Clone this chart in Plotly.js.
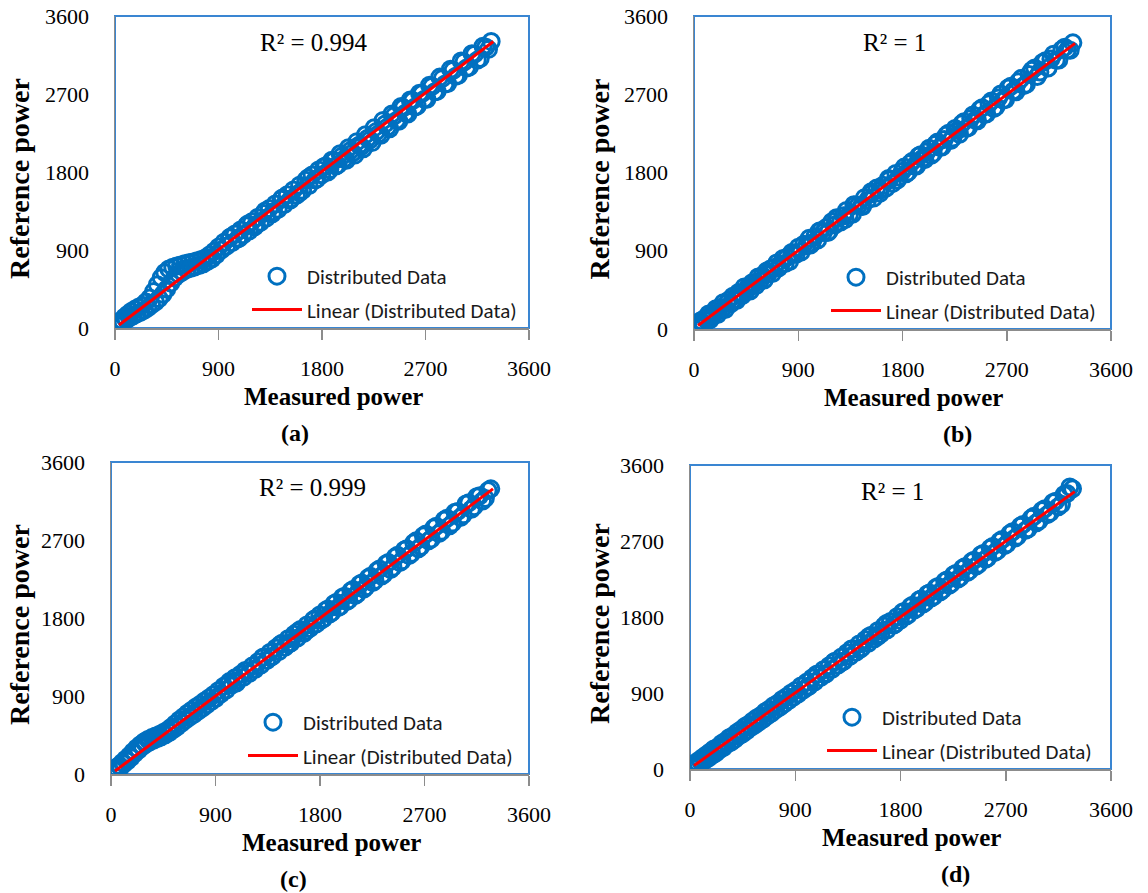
<!DOCTYPE html>
<html>
<head>
<meta charset="utf-8">
<script src="https://cdn.plot.ly/plotly-3.0.1.min.js"></script>
<style>html,body{margin:0;padding:0;background:#fff;}#chart{width:1148px;height:893px;}</style>
</head>
<body>
<div id="chart"></div>
<script>
// ---------- data ----------
const measured = [34,46,57,71,84,97,112,126,141,158,172,189,204,221,238,253,270,286,301,318,335,352,368,384,401,417,433,450,468,485,502,519,536,553,570,588,606,624,641,659,677,695,714,732,751,769,788,806,825,844,863,882,901,
924,948,971,995,1019,1043,1068,1092,1116,1141,1166,1190,1215,1240,1266,1291,1316,1342,1368,1393,1419,1446,1472,1498,1525,1551,1578,1605,1632,1659,1687,1714,1742,1770,1798,
1832,1868,1903,1939,1975,2012,2048,2085,2122,2160,2197,2235,2273,2312,2350,2389,2428,2468,2507,2547,2588,2628,2669,
2712,2758,2801,2847,2893,2941,2986,3034,3081,3127,3176,3224,3271];
const measuredExtra = [1005,1080,1155,1230,1305,1380,1455,1530,1605,1680,1755,
1815,1850,1886,1921,1957,1993,2030,2066,2103,2141,2178,2216,2254,2292,2331,2370,2408,2448,2488,2527,2567,2608,2648,2690,
2735,2780,2824,2870,2917,2963,3010,3057,3104,3150,3200,3248];

const referenceA = [45,25,90,62,128,95,160,118,190,140,215,165,240,180,262,205,300,232,345,268,420,300,500,340,580,390,640,450,680,520,700,580,715,620,728,650,740,675,752,690,762,705,775,720,790,740,812,770,845,800,885,845,935,
900,990,945,1040,985,1085,1030,1130,1075,1180,1120,1225,1168,1275,1220,1322,1268,1378,1318,1430,1370,1485,1425,1538,1478,1592,1532,1648,1588,1705,1645,1765,1710,1822,1768,
1870,1828,1930,1882,1985,1935,2048,1995,2110,2068,2190,2140,2268,2225,2355,2300,2450,2385,2540,2470,2625,2560,2705,
2640,2790,2730,2880,2820,2975,2915,3070,3010,3160,3110,3240,3305];
const referenceAExtra = [1050,1035,1200,1190,1350,1340,1500,1490,1560,1735,1720,
1860,1800,1935,1870,2010,1950,2080,2020,2150,2095,2230,2170,2310,2240,2395,2320,2470,2395,2555,2480,2630,2550,2710,2640,
2800,2725,2895,2815,2985,2905,3080,3000,3165,3090,3250,3215];

const referenceB = [46,21,95,76,42,127,97,173,108,178,164,233,167,247,218,303,225,301,334,290,376,340,328,420,409,386,482,428,486,438,531,522,500,598,552,612,563,663,635,690,639,709,760,705,741,811,754,828,776,879,870,858,941,
885,976,957,1043,989,1060,1024,1129,1111,1166,1125,1233,1196,1272,1231,1302,1362,1316,1320,1427,1421,1414,1511,1482,1552,1506,1622,1596,1653,1622,1717,1672,1789,1749,1813,
1786,1906,1875,1991,1963,2038,1998,2126,2089,2179,2252,2197,2282,2360,2306,2420,2403,2526,2467,2592,2536,2656,2634,
2772,2738,2843,2799,2928,3003,2956,3084,3106,3092,3216,3209,3291];
const referenceBExtra = [965,1125,1110,1280,1260,1430,1408,1578,1560,1730,1712,
1862,1805,1930,1875,2005,1948,2078,2020,2152,2092,2230,2168,2305,2240,2385,2318,2462,2395,2545,2475,2622,2555,2702,2640,
2792,2728,2880,2815,2975,2905,3065,3002,3160,3095,3240,3205];

const referenceC = [40,72,45,98,80,132,118,170,150,212,190,258,236,300,276,338,318,372,345,398,372,420,392,438,410,455,430,480,452,505,478,540,512,580,546,622,585,660,622,700,656,735,690,772,728,806,760,842,800,878,835,915,872,
962,925,1012,972,1066,1030,1110,1078,1150,1115,1190,1160,1245,1205,1295,1258,1350,1310,1402,1360,1455,1412,1508,1462,1560,1515,1612,1570,1668,1622,1720,1680,1778,1732,1835,
1795,1905,1866,1980,1935,2052,2008,2130,2080,2205,2160,2282,2232,2365,2305,2440,2385,2525,2460,2600,2545,2690,2625,
2770,2712,2860,2800,2950,2895,3030,2990,3130,3085,3210,3180,3290];
const referenceCExtra = [1040,1050,1195,1210,1345,1350,1492,1500,1640,1650,1790,
1780,1890,1850,1965,1920,2040,1990,2112,2060,2190,2135,2265,2210,2345,2285,2425,2360,2505,2440,2585,2520,2668,2600,2750,
2690,2840,2775,2930,2865,3020,2960,3115,3055,3200,3150,3270];

const referenceD = [52,30,84,58,110,79,139,104,170,131,201,163,236,190,262,229,301,255,329,296,370,318,395,352,433,390,461,418,502,452,530,491,569,520,604,556,635,590,676,628,708,661,748,700,780,735,822,771,855,810,897,850,930,
889,983,938,1026,984,1078,1033,1124,1082,1175,1130,1223,1181,1275,1231,1322,1280,1377,1334,1425,1383,1480,1437,1530,1490,1585,1542,1637,1597,1694,1650,1747,1706,1804,1761,
1866,1830,1940,1901,2012,1973,2084,2046,2160,2121,2238,2196,2315,2270,2394,2346,2471,2424,2553,2502,2636,2583,2718,
2667,2810,2755,2896,2846,2992,2940,3082,3038,3170,3135,3262,3318];
const referenceDExtra = [970,1118,1120,1268,1270,1420,1418,1570,1568,1722,1718,
1855,1812,1925,1885,2000,1955,2072,2028,2148,2100,2222,2176,2300,2250,2378,2326,2456,2404,2538,2485,2615,2565,2698,2645,
2785,2735,2875,2826,2968,2915,3062,3012,3155,3105,3250,3340];

// linear trend-line end points (Linear (Distributed Data))
const trendMeasured = [35, 3290];
const trendA = [35, 3305];
const trendB = [40, 3285];
const trendC = [35, 3290];
const trendD = [40, 3285];

const r2Labels = ['R² = 0.994', 'R² = 1', 'R² = 0.999', 'R² = 1'];
const panelLabels = ['(a)', '(b)', '(c)', '(d)'];
const tickValues = [0, 900, 1800, 2700, 3600];
const tickLabels = ['0', '900', '1800', '2700', '3600'];
const xTitle = 'Measured power';
const yTitle = 'Reference power';
const scatterName = 'Distributed Data';
const lineName = 'Linear (Distributed Data)';

// ---------- layout helpers ----------
const W = 1148, H = 893;
const px = v => v / W;
const py = v => 1 - v / H;

// plot-area boxes in pixels: [left, right, top, bottom]
const boxes = [
  [115, 529, 16, 328],
  [694, 1111, 16, 329],
  [111, 529, 462, 774],
  [690, 1111, 465, 769]
];
const yTitleX = [19, 599, 19, 599];
const allMeasured = measured.concat(measuredExtra);
const refs = [
  referenceA.concat(referenceAExtra),
  referenceB.concat(referenceBExtra),
  referenceC.concat(referenceCExtra),
  referenceD.concat(referenceDExtra)
];
const trends = [trendA, trendB, trendC, trendD];

const serif = 'Liberation Serif, Times New Roman, serif';
const sans = 'Carlito, Calibri, Lato, sans-serif';
const blue = '#0070c0';

const data = [];
const layout = {
  width: W, height: H,
  margin: {l: 0, r: 0, t: 0, b: 0},
  paper_bgcolor: '#fff', plot_bgcolor: '#fff',
  showlegend: true,
  annotations: [], shapes: []
};

boxes.forEach((b, i) => {
  const n = i === 0 ? '' : String(i + 1);
  const xa = 'x' + n, ya = 'y' + n;
  const lg = i === 0 ? 'legend' : 'legend' + (i + 1);
  data.push({
    type: 'scatter', mode: 'markers', x: allMeasured, y: refs[i],
    xaxis: xa, yaxis: ya, name: scatterName, legend: lg, legendgroup: 'g1' + i,
    marker: {symbol: 'circle-open', size: 16, color: blue, line: {width: 3, color: blue}},
    hoverinfo: 'skip'
  });
  data.push({
    type: 'scatter', mode: 'lines', x: trendMeasured, y: trends[i],
    xaxis: xa, yaxis: ya, name: lineName, legend: lg, legendgroup: 'g2' + i,
    line: {color: '#ff0000', width: 3}, hoverinfo: 'skip'
  });
  layout['xaxis' + n] = {
    domain: [px(b[0]), px(b[1])], range: [0, 3600], anchor: ya,
    tickvals: tickValues, ticktext: tickLabels,
    ticks: 'outside', ticklen: 10, tickwidth: 1.5, tickcolor: '#8c8c8c',
    showline: true, linecolor: '#8c8c8c', linewidth: 1.5,
    showgrid: false, zeroline: false, ticklabelstandoff: 10,
    tickfont: {family: serif, size: 22, color: '#000'}
  };
  layout['yaxis' + n] = {
    domain: [py(b[3]), py(b[2])], range: [0, 3600], anchor: xa,
    tickvals: tickValues, ticktext: tickLabels, ticks: '',
    showline: true, linecolor: '#8c8c8c', linewidth: 1.5,
    showgrid: false, zeroline: false, ticklabelstandoff: 20,
    tickfont: {family: serif, size: 22, color: '#000'}
  };
  layout.shapes.push({
    type: 'rect', xref: xa + ' domain', yref: ya + ' domain',
    x0: 0, x1: 1, y0: 0, y1: 1, layer: 'below',
    line: {color: '#3a86d2', width: 2}
  });
  const cx = (b[0] + b[1]) / 2;
  layout.annotations.push({
    xref: 'paper', yref: 'paper', x: px(cx - 8), y: py(b[2] + 26),
    text: r2Labels[i], showarrow: false, xanchor: 'center', yanchor: 'middle',
    font: {family: serif, size: 25, color: '#000'}
  });
  layout.annotations.push({
    xref: 'paper', yref: 'paper', x: px(cx + 11), y: py(b[3] + 68),
    text: '<b>' + xTitle + '</b>', showarrow: false, xanchor: 'center', yanchor: 'middle',
    font: {family: serif, size: 25, color: '#000'}
  });
  layout.annotations.push({
    xref: 'paper', yref: 'paper', x: px(yTitleX[i]), y: py((b[2] + b[3]) / 2 + 7),
    text: '<b>' + yTitle + '</b>', showarrow: false, textangle: -90, xanchor: 'center', yanchor: 'middle',
    font: {family: serif, size: 28, color: '#000'}
  });
  layout.annotations.push({
    xref: 'paper', yref: 'paper', x: px(i % 2 === 0 ? cx - 27 : cx + 55), y: py(b[3] + 105),
    text: '<b>' + panelLabels[i] + '</b>', showarrow: false, xanchor: 'center', yanchor: 'middle',
    font: {family: serif, size: 24, color: '#000'}
  });
  layout[lg] = {
    x: px(b[0] + 132), y: py(b[3] - 72), xref: 'paper', yref: 'paper',
    xanchor: 'left', yanchor: 'top', bgcolor: 'rgba(0,0,0,0)', borderwidth: 0,
    itemwidth: 50, traceorder: 'grouped', tracegroupgap: 3,
    font: {family: sans, size: 21, color: '#1a1a1a'}
  };
});

Plotly.newPlot('chart', data, layout, {staticPlot: true, displayModeBar: false});
</script>
</body>
</html>
